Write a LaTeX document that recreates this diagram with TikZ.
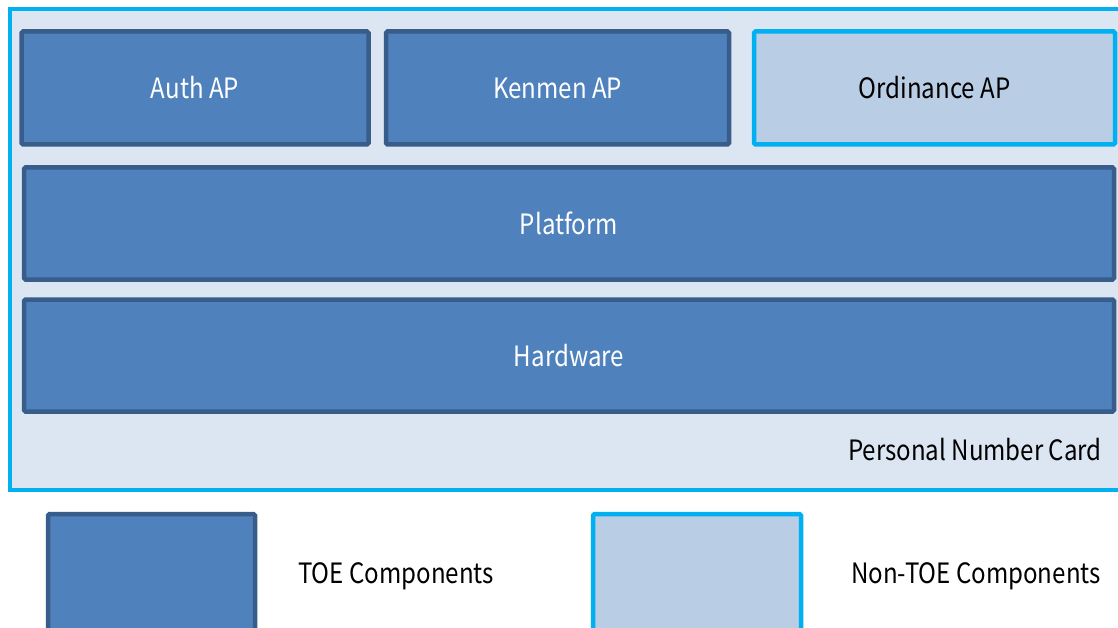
\documentclass[tikz,border=0pt]{standalone}
\usepackage{fontspec}
\setmainfont[FakeStretch=0.86]{Noto Sans CJK JP}
\definecolor{toefill}{HTML}{4F81BD}
\definecolor{toeline}{HTML}{385D8A}
\definecolor{cardfill}{HTML}{DCE6F2}
\definecolor{cyanline}{HTML}{00B0F0}
\definecolor{otherfill}{HTML}{B9CDE5}
\tikzset{
  toe/.style={rectangle,rounded corners=1.5pt,draw=toeline,fill=toefill,line width=4.5pt,text=white,inner sep=0pt},
  nontoe/.style={rectangle,rounded corners=1.5pt,draw=cyanline,fill=otherfill,line width=4.5pt,text=black,inner sep=0pt},
  lbl/.style={text=black,inner sep=0pt}
}
\begin{document}
\begin{tikzpicture}[x=1pt,y=-1pt,font=\fontsize{28}{33}\selectfont]
      \useasboundingbox (0,0) rectangle (1118,628);
      \draw[cyanline,fill=cardfill,line width=4.5pt] (10,9) rectangle (1130,490);
      \begin{scope}[every node/.style={toe}]
        \node[minimum width=347pt,minimum height=113pt] (auth) at (195,88) {Auth AP};
        \node[minimum width=343pt,minimum height=113pt] (kenmen) at (557.5,88) {Kenmen AP};
        \node[minimum width=1090pt,minimum height=112pt] (platform) at (569,223.5) {Platform};
        \node[minimum width=1090pt,minimum height=112pt] (hardware) at (569,355.5) {Hardware};
        \node[minimum width=207pt,minimum height=130pt] (toekey) at (151.5,579) {};
      \end{scope}
      \begin{scope}[every node/.style={nontoe}]
        \node[minimum width=361pt,minimum height=113pt] (ordinance) at (934.5,88) {Ordinance AP};
        \node[minimum width=208pt,minimum height=130pt] (nontoekey) at (697,579) {};
      \end{scope}
      \begin{scope}[every node/.style={lbl}]
        \node (card) at (975,450) {Personal Number Card};
        \node (toetext) at (396,576) {TOE Components};
        \node (nontoetext) at (976,576) {Non-TOE Components};
      \end{scope}
    \end{tikzpicture}
\end{document}
